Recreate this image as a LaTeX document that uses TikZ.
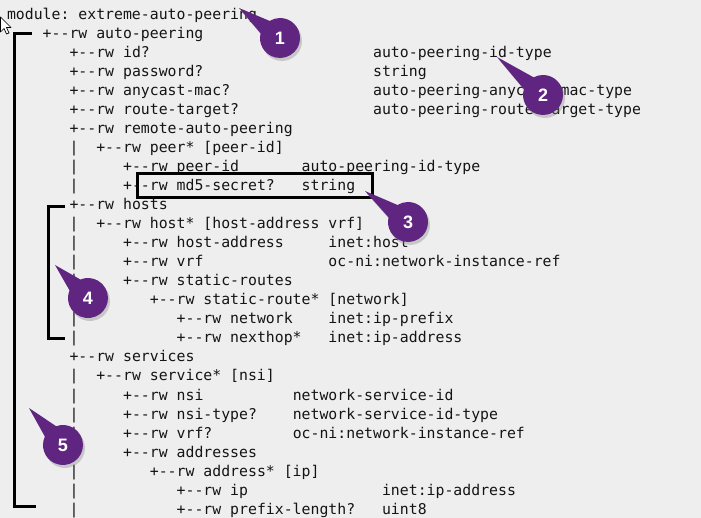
\documentclass[tikz,border=0pt]{standalone}
\usepackage{fontspec}
\setmonofont{DejaVu Sans Mono}
\newfontfamily\badgefont{Liberation Sans}
\usepackage{tikz}
\usetikzlibrary{shapes.callouts,shadows}

\definecolor{pagebg}{HTML}{EEEEEE}
\definecolor{codeink}{HTML}{141414}
\definecolor{badge}{HTML}{5F2580}

\tikzset{
  code/.style={anchor=base west,inner sep=0pt,outer sep=0pt,text=codeink,
    font=\ttfamily\fontsize{14.83}{19}\selectfont},
  bracket/.style={line width=3pt,line join=miter,draw=black},
  numbadge/.style={ellipse callout,fill=badge,text=white,minimum width=40pt,
    minimum height=40pt,inner sep=0pt,callout pointer arc=45,
    font=\badgefont\bfseries\fontsize{18}{18}\selectfont,
    drop shadow={shadow xshift=2pt,shadow yshift=-3pt,opacity=0.35}}
}

\begin{document}
\begin{tikzpicture}[x=1pt,y=-1pt]
            \fill[pagebg] (0,0) rectangle (701,518);
            \useasboundingbox (0,0) rectangle (701,518);

            \begin{scope}[shift={(7,20)},x=8.93pt,y=-19pt]
            \node[code] (mod) at (0,0) {module: extreme-auto-peering};
            \node[code] (autopeer) at (4,1) {+--rw auto-peering};

            \node[code] (id) at (7,2) {+--rw id?};
            \node[code] (idtype) at (41,2) {auto-peering-id-type};
            \node[code] (pw) at (7,3) {+--rw password?};
            \node[code] (pwtype) at (41,3) {string};
            \node[code] (mac) at (7,4) {+--rw anycast-mac?};
            \node[code] (mactype) at (41,4) {auto-peering-anycast-mac-type};
            \node[code] (rt) at (7,5) {+--rw route-target?};
            \node[code] (rttype) at (41,5) {auto-peering-route-target-type};
            \node[code] (remote) at (7,6) {+--rw remote-auto-peering};
            \node[code] (peer) at (10,7) {+--rw peer* [peer-id]};
            \node[code] (peerid) at (13,8) {+--rw peer-id};
            \node[code] (peeridtype) at (33,8) {auto-peering-id-type};
            \node[code] (md5) at (13,9) {+--rw md5-secret?};
            \node[code] (md5type) at (33,9) {string};

            \node[code] (hosts) at (7,10) {+--rw hosts};
            \node[code] (host) at (10,11) {+--rw host* [host-address vrf]};
            \node[code] (hostaddr) at (13,12) {+--rw host-address};
            \node[code] (hostaddrtype) at (36,12) {inet:host};
            \node[code] (hostvrf) at (13,13) {+--rw vrf};
            \node[code] (hostvrftype) at (36,13) {oc-ni:network-instance-ref};
            \node[code] (sroutes) at (13,14) {+--rw static-routes};
            \node[code] (sroute) at (16,15) {+--rw static-route* [network]};
            \node[code] (net) at (19,16) {+--rw network};
            \node[code] (nettype) at (36,16) {inet:ip-prefix};
            \node[code] (nexthop) at (19,17) {+--rw nexthop*};
            \node[code] (nexthoptype) at (36,17) {inet:ip-address};

            \node[code] (svcs) at (7,18) {+--rw services};
            \node[code] (svc) at (10,19) {+--rw service* [nsi]};
            \node[code] (nsi) at (13,20) {+--rw nsi};
            \node[code] (nsitype) at (32,20) {network-service-id};
            \node[code] (nsikind) at (13,21) {+--rw nsi-type?};
            \node[code] (nsikindtype) at (32,21) {network-service-id-type};
            \node[code] (svcvrf) at (13,22) {+--rw vrf?};
            \node[code] (svcvrftype) at (32,22) {oc-ni:network-instance-ref};
            \node[code] (addrs) at (13,23) {+--rw addresses};
            \node[code] (addr) at (16,24) {+--rw address* [ip]};
            \node[code] (ip) at (19,25) {+--rw ip};
            \node[code] (iptype) at (42,25) {inet:ip-address};
            \node[code] (plen) at (19,26) {+--rw prefix-length?};
            \node[code] (plentype) at (42,26) {uint8};

            \foreach \r in {7,8,9,11,12,13,14,15,16,17,19,20,21,22,23,24,25,26}
              \node[code] (bar\r) at (7,\r) {|};
            \end{scope}

            % mouse pointer
            \draw[fill=white,line width=0.7pt,line join=round]
              (0.5,17) -- (0.5,32) -- (4,28.5) -- (6.5,34) -- (9,33) -- (6.5,27.5) -- (11,27.5) -- cycle;

            % brackets and frame
            \draw[bracket] (32,34) -- (14,34) -- (14,506) -- (36,506);
            \draw[bracket] (65,207) -- (48,207) -- (48,339) -- (65,339);
            \draw[bracket] (137,174) rectangle (372,198);

            % numbered badges
            \coordinate (tip1) at (239,8);
            \coordinate (tip2) at (497,57);
            \coordinate (tip3) at (365,191);
            \coordinate (tip4) at (55,265);
            \coordinate (tip5) at (29,408);

            \node[numbadge,callout absolute pointer={(tip1)}] (b1) at (280,38) {1};
            \node[numbadge,callout absolute pointer={(tip2)}] (b2) at (543,95) {2};
            \node[numbadge,callout absolute pointer={(tip3)}] (b3) at (408,222) {3};
            \node[numbadge,callout absolute pointer={(tip4)}] (b4) at (88,298) {4};
            \node[numbadge,callout absolute pointer={(tip5)}] (b5) at (63,445) {5};
        \end{tikzpicture}
\end{document}
